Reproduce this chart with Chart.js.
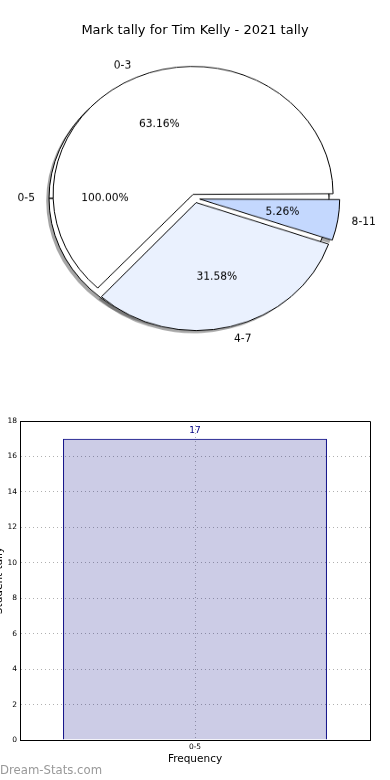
<!DOCTYPE html>
<html lang="en">
<head>
  <meta charset="UTF-8">
  <meta name="viewport" content="width=device-width, initial-scale=1.0">
  <title>Mark tally for Tim Kelly - 2021 tally</title>
  <!-- Chart.js (via CDN) -->
  <script src="https://cdn.jsdelivr.net/npm/chart.js"></script>
  <style>
    body { margin: 0; background: #fff; font-family: "DejaVu Sans", sans-serif; }
    #page { position: relative; width: 390px; height: 780px; overflow: hidden; }
    #pieTitle { position: absolute; top: 22px; left: 0; width: 390px; text-align: center; font-size: 13px; line-height: 16px; color: #000; }
    .pie { position: absolute; top: 0; left: 0; transform: scaleY(0.914); transform-origin: 0 0; }
    #barChart { position: absolute; left: 0; top: 400px; }
    #credit { position: absolute; left: 0; top: 762px; font-size: 11.7px; line-height: 16px; color: #999; }
  </style>
</head>
<body>
  <div id="page">
    <canvas id="totalPie" class="pie" width="390" height="434"></canvas>
    <canvas id="bandPie" class="pie" width="390" height="434"></canvas>
    <div id="pieTitle"></div>
    <canvas id="barChart" width="390" height="380"></canvas>
    <div id="credit">Dream-Stats.com</div>
  </div>

  <script>
    // chart data
    const pieTitle = "Mark tally for Tim Kelly - 2021 tally";
    const totalLabels = ["0-5"];
    const totalCounts = [17];
    const bandLabels = ["0-3", "4-7", "8-11"];
    const bandCounts = [12, 6, 1];
    const bandColors = ["#ffffff", "#eaf1fe", "#c4d8fe"];

    const barCategories = ["0-5"];
    const barValues = [17];
    const yMin = 0, yMax = 18, yStep = 2;
    const xAxisTitle = "Frequency";
    const yAxisTitle = "Student tally";

    const PIE_R = 140;      // pie radius in canvas pixels
    const SQUASH = 0.914;   // vertical css scale of the pie canvases

    document.getElementById("pieTitle").textContent = pieTitle;

    let bandChart = null;
    let totalChart = null;

    function putText(ctx, text, x, y, align) {
      ctx.save();
      ctx.translate(x, y);
      ctx.scale(1, 1 / SQUASH);
      ctx.font = "10.7px 'DejaVu Sans'";
      ctx.fillStyle = "#000";
      ctx.textAlign = align;
      ctx.textBaseline = "middle";
      ctx.fillText(text, 0, 0);
      ctx.restore();
    }

    function drawShadows(ctx, chart) {
      chart.getDatasetMeta(0).data.forEach(arc => {
        const off = (arc.options.offset || 0) / 4;
        const mid = (arc.startAngle + arc.endAngle) / 2;
        ctx.save();
        ctx.translate(Math.cos(mid) * off - 2.8, Math.sin(mid) * off + 2.8);
        ctx.beginPath();
        ctx.moveTo(arc.x, arc.y);
        ctx.arc(arc.x, arc.y, PIE_R, arc.startAngle, arc.endAngle);
        ctx.closePath();
        ctx.fillStyle = "rgba(77,77,77,0.5)";
        ctx.fill();
        ctx.restore();
      });
    }

    function drawLabels(ctx, chart) {
      const ds = chart.data.datasets[0];
      const total = ds.data.reduce((a, b) => a + b, 0);
      chart.getDatasetMeta(0).data.forEach((arc, i) => {
        const mid = ds.labelAngle !== undefined ? ds.labelAngle : (arc.startAngle + arc.endAngle) / 2;
        const off = (arc.options.offset || 0) / 4;
        const cx = arc.x + Math.cos(mid) * off;
        const cy = arc.y + Math.sin(mid) * off;
        const pct = (ds.data[i] / total * 100).toFixed(2) + "%";
        putText(ctx, pct, cx + Math.cos(mid) * 0.6 * PIE_R, cy + Math.sin(mid) * 0.6 * PIE_R, "center");
        putText(ctx, chart.data.labels[i], cx + Math.cos(mid) * 1.1 * PIE_R, cy + Math.sin(mid) * 1.1 * PIE_R,
          Math.cos(mid) > 0 ? "left" : "right");
      });
    }

    // bottom canvas: every shadow goes under both pies
    const underPie = {
      id: "underPie",
      beforeDatasetsDraw(chart) {
        drawShadows(chart.ctx, chart);
        if (bandChart) drawShadows(chart.ctx, bandChart);
      }
    };

    // top canvas: keep exploded wedges at one radius, texts above everything
    const overPie = {
      id: "overPie",
      beforeDatasetsDraw(chart) {
        chart.getDatasetMeta(0).data.forEach(arc => {
          const off = (arc.options.offset || 0) / 4;
          const fix = 1 - Math.sin(Math.min(Math.PI, arc.circumference));
          arc.outerRadius = PIE_R - off * fix;
        });
      },
      afterDatasetsDraw(chart) {
        if (totalChart) drawLabels(chart.ctx, totalChart);
        drawLabels(chart.ctx, chart);
      }
    };

    function pieOptions(rotation, padRight) {
      return {
        responsive: false,
        devicePixelRatio: 1,
        animation: false,
        events: [],
        radius: PIE_R,
        rotation: rotation,
        layout: { padding: { left: 0, right: padRight, top: 0, bottom: 0 } },
        plugins: { legend: { display: false }, tooltip: { enabled: false } }
      };
    }

    // banded pie, drawn clockwise from east so order is reversed
    bandChart = new Chart(document.getElementById("bandPie"), {
      type: "pie",
      data: {
        labels: bandLabels.slice().reverse(),
        datasets: [{
          data: bandCounts.slice().reverse(),
          backgroundColor: bandColors.slice().reverse(),
          borderColor: "#000",
          borderWidth: 1,
          borderJoinStyle: "miter",
          offset: 19
        }]
      },
      options: pieOptions(90, 0),
      plugins: [overPie]
    });

    // the full 0-5 pie underneath, centred 6px further left
    totalChart = new Chart(document.getElementById("totalPie"), {
      type: "pie",
      data: {
        labels: totalLabels,
        datasets: [{
          data: totalCounts,
          backgroundColor: "#ffffff",
          borderColor: "#000",
          borderWidth: 1,
          labelAngle: Math.PI
        }]
      },
      options: pieOptions(-90, 12),
      plugins: [underPie]
    });

    bandChart.draw();

    // bar chart plugins
    const frame = {
      id: "frame",
      afterDraw(chart) {
        const { ctx, chartArea: a } = chart;
        ctx.save();
        ctx.strokeStyle = "#000";
        ctx.lineWidth = 1;
        ctx.beginPath();
        ctx.moveTo(Math.round(a.left) + 0.5, Math.round(a.top) + 0.5);
        ctx.lineTo(Math.round(a.right) + 0.5, Math.round(a.top) + 0.5);
        ctx.lineTo(Math.round(a.right) + 0.5, Math.round(a.bottom) + 0.5);
        ctx.stroke();
        ctx.restore();
      }
    };

    const valueLabels = {
      id: "valueLabels",
      afterDatasetsDraw(chart) {
        const ctx = chart.ctx;
        const ds = chart.data.datasets[0];
        chart.getDatasetMeta(0).data.forEach((bar, i) => {
          ctx.save();
          ctx.font = "9px 'DejaVu Sans'";
          ctx.fillStyle = "#000080";
          ctx.textAlign = "center";
          ctx.textBaseline = "middle";
          ctx.fillText(String(ds.data[i]), bar.x, bar.y - 8.5);
          ctx.restore();
        });
      }
    };

    const yTitle = {
      id: "yTitle",
      afterDraw(chart) {
        const { ctx, chartArea: a } = chart;
        ctx.save();
        ctx.translate(1.5, (a.top + a.bottom) / 2);
        ctx.rotate(-Math.PI / 2);
        ctx.font = "10.5px 'DejaVu Sans'";
        ctx.fillStyle = "#000";
        ctx.textAlign = "center";
        ctx.textBaseline = "alphabetic";
        ctx.fillText(yAxisTitle, 0, 0);
        ctx.restore();
      }
    };

    new Chart(document.getElementById("barChart"), {
      type: "bar",
      data: {
        labels: barCategories,
        datasets: [{
          data: barValues,
          backgroundColor: "rgba(0,0,128,0.2)",
          borderColor: "#000080",
          borderWidth: 1,
          barPercentage: 0.754,
          categoryPercentage: 1
        }]
      },
      options: {
        responsive: false,
        devicePixelRatio: 1,
        animation: false,
        events: [],
        layout: { padding: { left: 0, right: 20, top: 21, bottom: 0 } },
        plugins: { legend: { display: false }, tooltip: { enabled: false } },
        scales: {
          x: {
            offset: true,
            grid: { offset: false, color: "#b0b0b0", drawTicks: false },
            border: { color: "#000", width: 1, dash: [1, 3] },
            ticks: { color: "#000", font: { family: "DejaVu Sans", size: 7.5 }, padding: 3 },
            title: {
              display: true, text: xAxisTitle, color: "#000",
              font: { family: "DejaVu Sans", size: 10.5 },
              padding: { top: 0, bottom: 14 }
            },
            afterFit(scale) { scale.height = 40; }
          },
          y: {
            min: yMin,
            max: yMax,
            grid: { color: "#b0b0b0", drawTicks: false },
            border: { color: "#000", width: 1, dash: [1, 3] },
            ticks: { stepSize: yStep, color: "#000", font: { family: "DejaVu Sans", size: 7.5 }, padding: 3 },
            afterFit(scale) { scale.width = 20; }
          }
        }
      },
      plugins: [frame, valueLabels, yTitle]
    });
  </script>
</body>
</html>
